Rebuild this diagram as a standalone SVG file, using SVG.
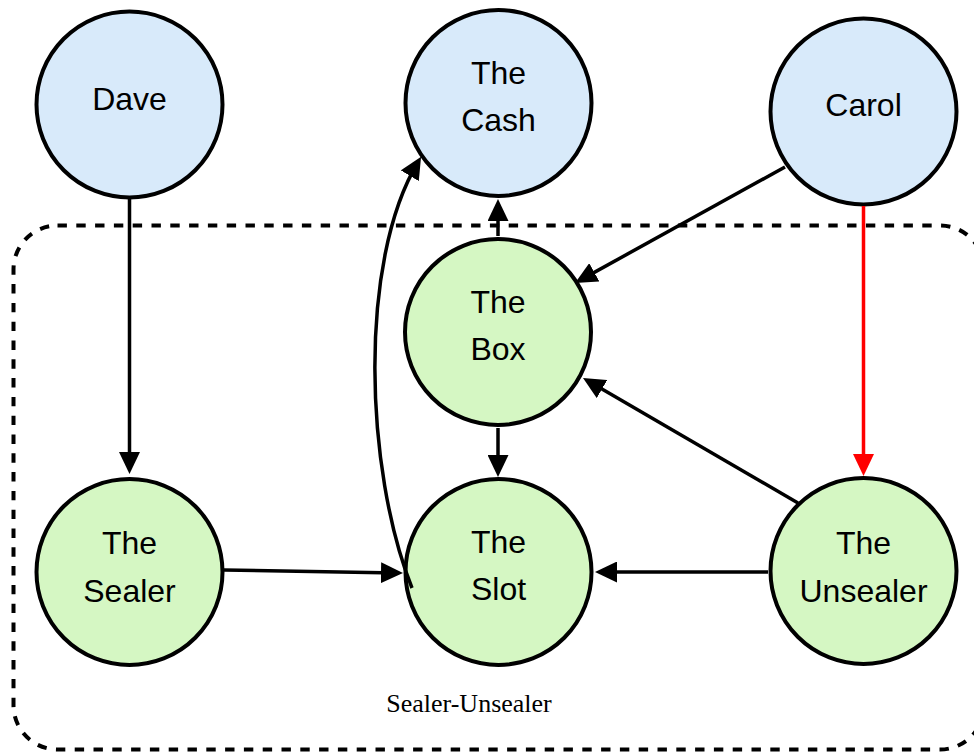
<svg xmlns="http://www.w3.org/2000/svg" width="974" height="752" viewBox="0 0 974 752">
  <defs>
    <style>
      .node { stroke: #000; stroke-width: 4; }
      .outer { fill: #d8eafa; }
      .inner { fill: #d5f7c3; }
      .label { font-family: "Liberation Sans", Arial, Helvetica, sans-serif; font-size: 32px; fill: #000; text-anchor: middle; }
      .edge { fill: none; stroke: #000; stroke-width: 3.5; }
      .edge.red { stroke: #ff0000; }
      .group { fill: none; stroke: #000; stroke-width: 4; stroke-dasharray: 9.4 9.4; }
      .caption { font-family: "Liberation Serif", "Times New Roman", serif; font-size: 26px; fill: #000; text-anchor: middle; }
    </style>
    <marker id="arrow" markerUnits="userSpaceOnUse" viewBox="0 0 22 21" markerWidth="22" markerHeight="21" refX="16" refY="10.5" orient="auto">
      <path d="M0,0 L22,10.5 L0,21 Z" fill="#000"/>
    </marker>
    <marker id="arrow-red" markerUnits="userSpaceOnUse" viewBox="0 0 22 21" markerWidth="22" markerHeight="21" refX="16" refY="10.5" orient="auto">
      <path d="M0,0 L22,10.5 L0,21 Z" fill="#ff0000"/>
    </marker>
  </defs>

  <rect width="974" height="752" fill="#fff"/>

  <!-- Sealer-Unsealer group boundary -->
  <g id="sealer-unsealer">
    <rect class="group" x="13.5" y="225.5" width="970.5" height="524" rx="44" ry="44"/>
    <text class="caption" x="469" y="711.5">Sealer-Unsealer</text>
  </g>

  <g id="dave">
    <circle class="node outer" cx="129.5" cy="104.5" r="93"/>
    <text class="label" x="129.5" y="110">Dave</text>
  </g>
  <g id="the-cash">
    <circle class="node outer" cx="498.5" cy="103" r="93"/>
    <text class="label" x="498.5" y="84">The</text>
    <text class="label" x="498.5" y="131">Cash</text>
  </g>
  <g id="carol">
    <circle class="node outer" cx="863.5" cy="111.5" r="93"/>
    <text class="label" x="863.5" y="116">Carol</text>
  </g>
  <g id="the-box">
    <circle class="node inner" cx="498" cy="332" r="93"/>
    <text class="label" x="498" y="313">The</text>
    <text class="label" x="498" y="360">Box</text>
  </g>
  <g id="the-sealer">
    <circle class="node inner" cx="129.5" cy="572" r="93"/>
    <text class="label" x="129.5" y="554">The</text>
    <text class="label" x="129.5" y="602">Sealer</text>
  </g>
  <g id="the-slot">
    <circle class="node inner" cx="498.5" cy="572" r="93"/>
    <text class="label" x="498.5" y="553">The</text>
    <text class="label" x="498.5" y="600">Slot</text>
  </g>
  <g id="the-unsealer">
    <circle class="node inner" cx="863.5" cy="571" r="93"/>
    <text class="label" x="863.5" y="554">The</text>
    <text class="label" x="863.5" y="602">Unsealer</text>
  </g>

  <!-- connectors -->
  <g id="connectors">
    <path class="edge" d="M129.5,199 L129.5,468" marker-end="url(#arrow)"/>
    <path class="edge" d="M224,570 L397,572.9" marker-end="url(#arrow)"/>
    <path class="edge" d="M768,572 L601,572" marker-end="url(#arrow)"/>
    <path class="edge" d="M498,428 L498,471" marker-end="url(#arrow)"/>
    <path class="edge" d="M498,236 L498,205" marker-end="url(#arrow)"/>
    <path class="edge" d="M785,167 L580.3,280.1" marker-end="url(#arrow)"/>
    <path class="edge" d="M798,503 L588.2,381" marker-end="url(#arrow)"/>
    <path class="edge red" d="M863.5,206 L863.5,470" marker-end="url(#arrow-red)"/>
    <path class="edge" d="M412,588 C365,470 358,262 418,162" marker-end="url(#arrow)"/>
  </g>
</svg>
